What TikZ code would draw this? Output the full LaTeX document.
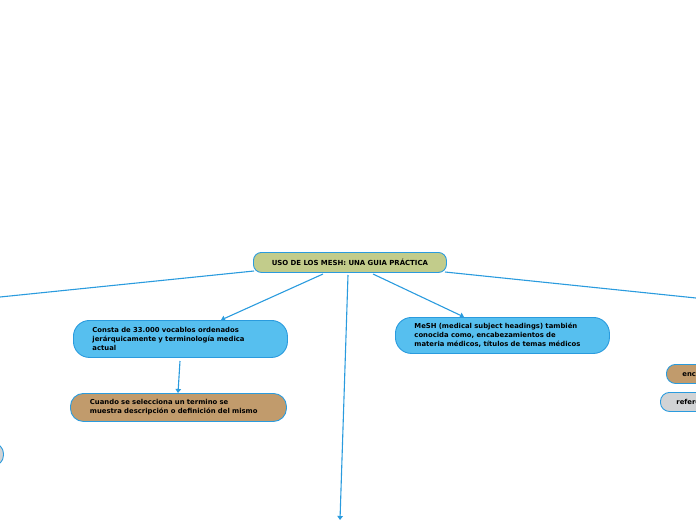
\documentclass[tikz,border=0pt]{standalone}
\usepackage{fontspec}
\setmainfont{DejaVu Sans}
\usetikzlibrary{arrows.meta}
\definecolor{lnblue}{HTML}{2A9BDE}
\definecolor{skyfill}{HTML}{56BFEF}
\definecolor{tanfill}{HTML}{C19B6C}
\definecolor{olivefill}{HTML}{C2CC8B}
\definecolor{greyfill}{HTML}{D1D3D5}
\begin{document}
\begin{tikzpicture}[x=1pt,y=-1pt,
  box/.style={draw=lnblue, line width=0.9pt, anchor=north west, inner ysep=0pt,
    font=\bfseries\fontsize{6.85}{8.8}\selectfont, text=black, align=left},
  conn/.style={draw=lnblue, line width=1.1pt},
  arr/.style={conn, -{Triangle[width=5.5pt,length=4pt]}}]
\useasboundingbox (0,0) rectangle (696,520);
\clip (0,0) rectangle (696,520);
% root
\node[box, fill=olivefill, rounded corners=8pt, minimum width=193pt, minimum height=20pt, align=center, text width=185pt, inner xsep=4pt, font=\bfseries\fontsize{6.95}{8}\selectfont] (root) at (253,252) {USO DE LOS MESH: UNA GUIA PRÁCTICA};
% node A
\node[box, fill=skyfill, rounded corners=16pt, minimum width=214pt, minimum height=37pt, text width=176pt, inner xsep=19pt] (a) at (73,320) {Consta de 33.000 vocablos ordenados\\jerárquicamente y terminología medica\\actual};
% node B
\node[box, fill=tanfill, rounded corners=13pt, minimum width=216pt, minimum height=28pt, text width=177pt, inner xsep=19.5pt] (b) at (70,393) {Cuando se selecciona un termino se\\muestra descripción o definición del mismo};
% node C
\node[box, fill=skyfill, rounded corners=16pt, minimum width=214pt, minimum height=36pt, text width=176pt, inner xsep=19pt] (c) at (395,317) {MeSH (medical subject headings) también\\conocida como, encabezamientos de\\materia médicos, títulos de temas médicos};
% right partial nodes
\node[box, fill=tanfill, rounded corners=9pt, minimum width=120pt, minimum height=19pt, text width=100pt, inner xsep=16pt] (r1) at (666,364) {encabezamientos};
\node[box, fill=greyfill, rounded corners=9pt, minimum width=120pt, minimum height=19pt, text width=100pt, inner xsep=16pt] (r2) at (660,392) {referencias};
% left partial node
\node[box, fill=greyfill, rounded corners=10pt, minimum width=120pt, minimum height=22pt, text width=100pt, inner xsep=10pt] (l1) at (-117,443) {};
% off-picture ends
\coordinate (lend) at (0,297);
\coordinate (rend) at (696,298);
\coordinate (bend) at (340,520);
% connectors
\draw[conn] (254,271) -- (lend);
\draw[conn] (445,272) -- (rend);
\draw[arr] (323,274) -- (a.north -| 221,0);
\draw[arr] (373,274) -- (c.north -| 464,0);
\draw[arr] (348,275) -- (bend);
\draw[arr] (180,361) -- (b.north -| 178,0);
\end{tikzpicture}
\end{document}
